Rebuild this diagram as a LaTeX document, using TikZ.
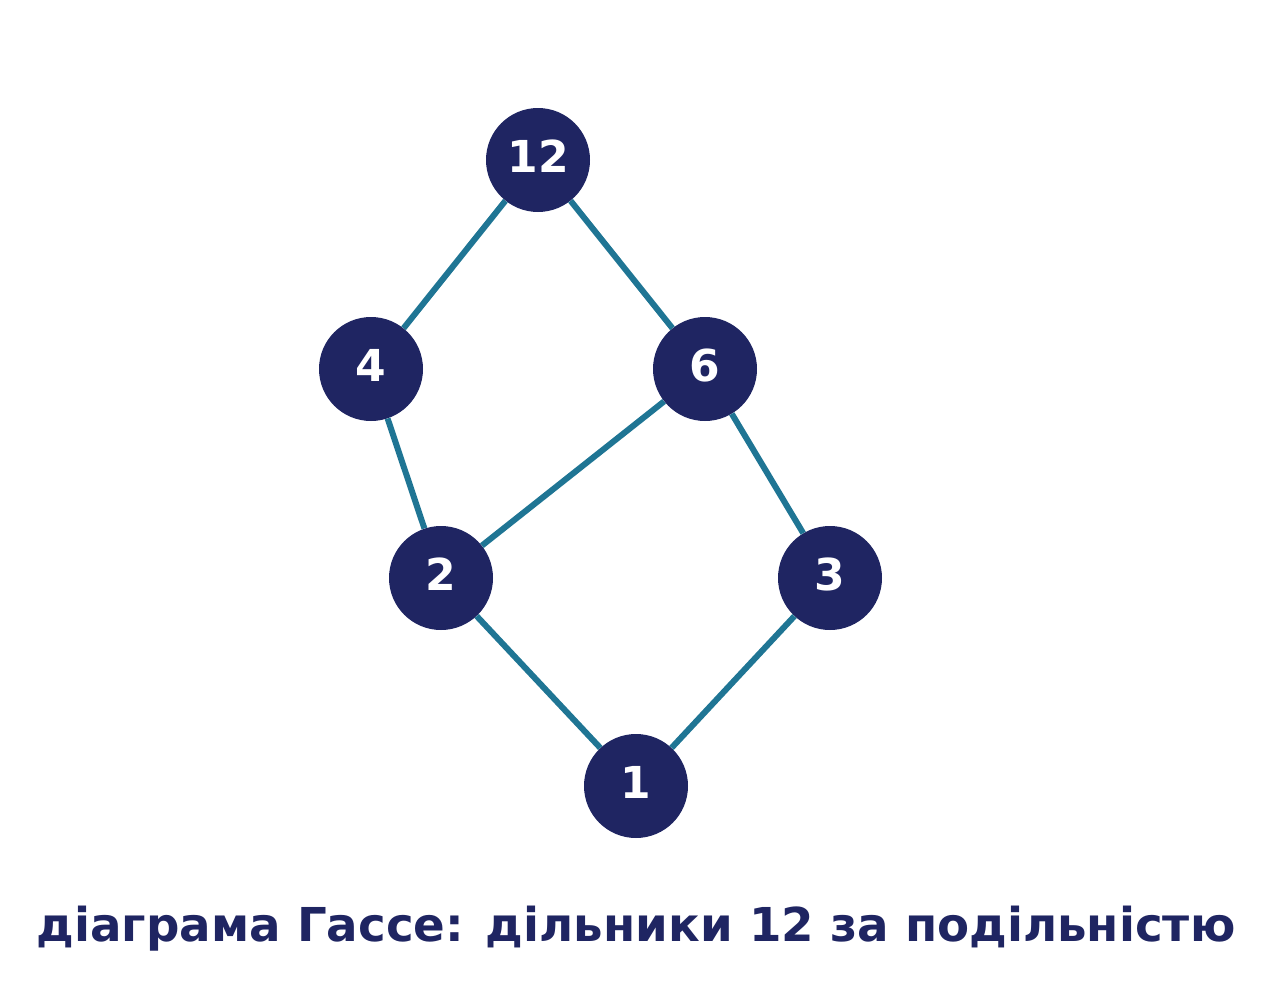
\documentclass[tikz,border=0pt]{standalone}
\usepackage{fontspec}
\setmainfont{DejaVu Sans}
\definecolor{navy}{HTML}{1F2562}
\definecolor{teal}{HTML}{1F7594}
\begin{document}
\begin{tikzpicture}[x=1pt,y=-1pt,
  vert/.style={circle,fill=navy,minimum size=104pt,inner sep=0pt,text=white,text depth=8pt,font=\fontsize{44}{44}\selectfont\bfseries},
  edge/.style={draw=teal,line width=6pt}]
\useasboundingbox (0,0) rectangle (1272,990);
\node[vert] (n12) at (538,160) {12};
\node[vert] (n4) at (371,369) {4};
\node[vert] (n6) at (705,369) {6};
\node[vert] (n2) at (441,578) {2};
\node[vert] (n3) at (830,578) {3};
\node[vert] (n1) at (636,786) {1};
\node[font=\fontsize{46.7}{46.7}\selectfont\bfseries,text=navy,anchor=base,inner sep=0pt] (title) at (636,941) {діаграма Гассе: дільники 12 за подільністю};
\path[edge] (n12) -- (n4) (n12) -- (n6) (n4) -- (n2) (n6) -- (n2) (n6) -- (n3) (n2) -- (n1) (n3) -- (n1);
\end{tikzpicture}
\end{document}
